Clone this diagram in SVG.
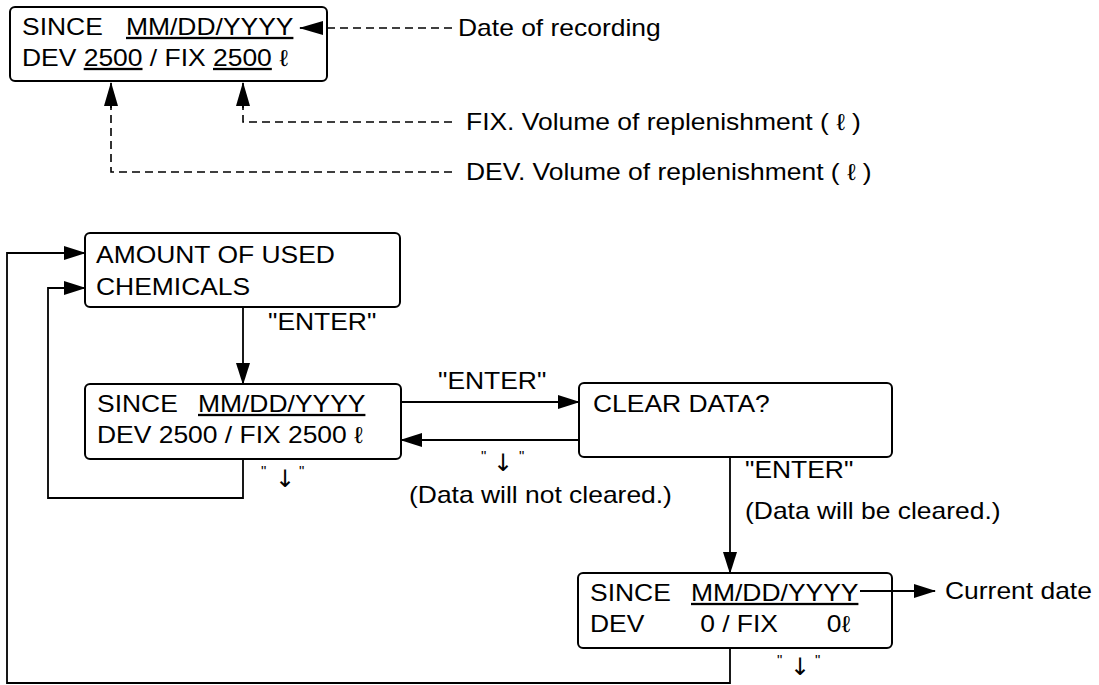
<svg xmlns="http://www.w3.org/2000/svg" width="1099" height="685" viewBox="0 0 1099 685">
<style>
.box{fill:#fff;stroke:#000;stroke-width:2}
.ln{fill:none;stroke:#000;stroke-width:1.8}
.ds{fill:none;stroke:#000;stroke-width:1.6;stroke-dasharray:8 5}
.t{font-family:"Liberation Sans",Arial,"DejaVu Sans",sans-serif;font-size:23px;fill:#000}
.u{text-decoration:underline}
.s{font-family:"Liberation Sans",Arial,"DejaVu Sans",sans-serif;font-size:15px;fill:#000}
.ar{font-family:"DejaVu Sans",sans-serif;font-size:24px;fill:#000;text-anchor:middle}
</style>
<defs>
<marker id="ah" markerUnits="userSpaceOnUse" markerWidth="22" markerHeight="14" refX="21" refY="7" orient="auto">
<path d="M0,0 L22,7 L0,14 z" fill="#000"/>
</marker>
<marker id="ahb" markerUnits="userSpaceOnUse" markerWidth="24" markerHeight="14" refX="23" refY="7" orient="auto">
<path d="M0,0 L24,7 L0,14 z" fill="#000"/>
</marker>
</defs>
<rect width="1099" height="685" fill="#fff"/>

<g id="node-record">
<rect class="box" x="10" y="7" width="317" height="74" rx="5"/>
<text class="t" transform="translate(22 35) scale(1.15 1)">SINCE</text>
<text class="t u" transform="translate(126 35) scale(1.15 1)">MM/DD/YYYY</text>
<text class="t" transform="translate(22 66) scale(1.15 1)">DEV <tspan class="u">2500</tspan> / FIX <tspan class="u">2500</tspan> ℓ</text>
</g>
<g id="label-date"><text class="t" transform="translate(458 36) scale(1.15 1)">Date of recording</text></g>
<g id="label-fix"><text class="t" transform="translate(466 130) scale(1.15 1)">FIX. Volume of replenishment ( ℓ )</text></g>
<g id="label-dev"><text class="t" transform="translate(466 180) scale(1.15 1)">DEV. Volume of replenishment ( ℓ )</text></g>

<g id="node-amount">
<rect class="box" x="85" y="233" width="315" height="74" rx="5"/>
<text class="t" transform="translate(96 263) scale(1.15 1)">AMOUNT OF USED</text>
<text class="t" transform="translate(96 295) scale(1.15 1)">CHEMICALS</text>
</g>
<g id="label-enter1"><text class="t" transform="translate(268 330) scale(1.15 1)">"ENTER"</text></g>

<g id="node-since">
<rect class="box" x="85" y="384" width="316" height="75" rx="5"/>
<text class="t" transform="translate(97 412) scale(1.15 1)">SINCE</text>
<text class="t u" transform="translate(198 412) scale(1.15 1)">MM/DD/YYYY</text>
<text class="t" transform="translate(97 443) scale(1.15 1)">DEV 2500 / FIX 2500 ℓ</text>
</g>
<g id="label-down1">
<text class="s" x="261" y="476">"</text><text class="ar" x="285" y="487">↓</text><text class="s" x="299" y="476">"</text>
</g>
<g id="label-enter2"><text class="t" transform="translate(438 389) scale(1.15 1)">"ENTER"</text></g>
<g id="label-down2">
<text class="s" x="481" y="461">"</text><text class="ar" x="503" y="471">↓</text><text class="s" x="519" y="461">"</text>
</g>
<g id="label-notclear"><text class="t" transform="translate(409 503) scale(1.15 1)">(Data will not cleared.)</text></g>

<g id="node-clear">
<rect class="box" x="579" y="383" width="313" height="74" rx="5"/>
<text class="t" transform="translate(593 412) scale(1.15 1)">CLEAR DATA?</text>
</g>
<g id="label-enter3"><text class="t" transform="translate(745 478) scale(1.15 1)">"ENTER"</text></g>
<g id="label-clear"><text class="t" transform="translate(745 519) scale(1.15 1)">(Data will be cleared.)</text></g>

<g id="node-since-cleared">
<rect class="box" x="578" y="573" width="314" height="75" rx="5"/>
<text class="t" transform="translate(590 601) scale(1.15 1)">SINCE</text>
<text class="t u" transform="translate(691 601) scale(1.15 1)">MM/DD/YYYY</text>
<text class="t" transform="translate(590 632) scale(1.15 1)">DEV</text>
<text class="t" text-anchor="end" transform="translate(778 632) scale(1.15 1)">0 / FIX</text>
<text class="t" text-anchor="end" transform="translate(850 632) scale(1.15 1)">0ℓ</text>
</g>
<g id="label-current"><text class="t" transform="translate(945 599) scale(1.15 1)">Current date</text></g>
<g id="label-down3">
<text class="s" x="777" y="665">"</text><text class="ar" x="800" y="675">↓</text><text class="s" x="815" y="665">"</text>
</g>

<g id="connectors">
<path class="ds" d="M452,28 L318,28"/>
<path class="ln" d="M322,28 L300,28" marker-end="url(#ahb)"/>
<path class="ds" d="M452,172 L111,172 L111,106"/>
<path class="ln" d="M111,108 L111,83" marker-end="url(#ahb)"/>
<path class="ds" d="M452,122 L243,122 L243,106"/>
<path class="ln" d="M243,108 L243,83" marker-end="url(#ahb)"/>
<path class="ln" d="M243,307 L243,384" marker-end="url(#ah)"/>
<path class="ln" d="M401,402 L579,402" marker-end="url(#ah)"/>
<path class="ln" d="M579,440 L401,440" marker-end="url(#ah)"/>
<path class="ln" d="M730,457 L730,573" marker-end="url(#ah)"/>
<path class="ln" d="M860,591 L935,591" marker-end="url(#ah)"/>
<path class="ln" d="M243,459 L243,498 L48,498 L48,288 L85,288" marker-end="url(#ah)"/>
<path class="ln" d="M730,648 L730,683 L7,683 L7,253 L85,253" marker-end="url(#ah)"/>
</g>
</svg>
